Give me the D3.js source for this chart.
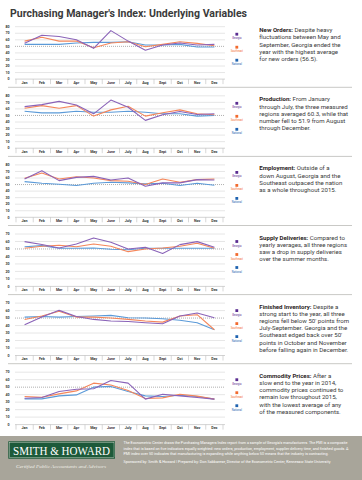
<!DOCTYPE html>
<html><head><meta charset="utf-8">
<script src="https://cdn.jsdelivr.net/npm/d3@7"></script>
<style>
html,body{margin:0;padding:0;background:#fff;}
svg{display:block;font-family:Roboto,"Noto Sans",sans-serif;}
</style></head>
<body><svg id="c" width="362" height="480"></svg>
<script>
const months = ["Jan","Feb","Mar","Apr","May","June","July","Aug","Sept","Oct","Nov","Dec"];
const seriesNames = ["Georgia","Southeast","National"];
const panelTitles = ["New Orders","Production","Employment","Supply Deliveries","Finished Inventory","Commodity Prices"];
const yMaxes = [80,80,80,70,70,70];

const newOrdersGeorgia   = [54.6,67,65,60,47,74,58,44,52,55,52,53];
const newOrdersSoutheast = [58,64,58,58,48,55,57,49.5,53,57,54.5,51];
const newOrdersNational  = [53,53,53,55,56,56,57,52,52,53,49,49];

const productionGeorgia   = [63.5,66.5,71.5,66,52.5,73.5,62.5,42.5,51,56,51.5,52.5];
const productionSoutheast = [61,65,61,65,49,58.5,64,49,54,58.5,52.5,51];
const productionNational  = [56.5,54,54,56.5,55,55,56.5,55,52.5,52.5,49,50];

const employmentGeorgia   = [58.5,71,56,61,62.5,57,60,47.5,52.5,52.5,57.5,57];
const employmentSoutheast = [59.5,67.5,58.5,62,60,56,55,50,58.5,53.5,57.5,58.5];
const employmentNational  = [54.5,52,50.5,48.5,52,53.5,52.5,51,52,48.5,52,49];

const supplyGeorgia   = [59.8,56,51.3,56.7,64.7,59,50,52.2,44,55.8,59.8,52.2];
const supplySoutheast = [51,53.6,55,53,56.7,53.6,46.4,50,51.3,53.6,57.6,51];
const supplyNational  = [53,54.5,51,51,51.3,49.6,49,51,51,51,51,51];

const inventoryGeorgia   = [41,51.3,60.3,52.2,48.2,46,45.5,43.8,42.4,52.7,56.7,50.4];
const inventorySoutheast = [48.2,52.7,59,51.3,51.3,50,48.2,46,44.6,52.7,54.5,34.4];
const inventoryNational  = [51.3,52.2,51.3,52.2,52.7,53.6,50.4,50,49,47,43.8,34.4];

const commodityGeorgia   = [35.3,36.2,44.2,47.3,47.8,59,55.4,34,40.6,38.4,36.2,34];
const commoditySoutheast = [37.5,36.6,41,45,55.4,53,45.5,34.8,35.7,40.6,38,34];
const commodityNational  = [34.4,34.4,38.4,39.7,50,51,44.2,38.4,37.5,39.3,37.5,34];

const panelTexts = [
  ["Despite heavy","fluctuations between May and","September, Georgia ended the","year with the highest average","for new orders (56.5)."],
  ["From January","through July, the three measured","regions averaged 60.3, while that","number fell to 51.9 from August","through December."],
  ["Outside of a","down August, Georgia and the","Southeast outpaced the nation","as a whole throughout 2015."],
  ["Compared to","yearly averages, all three regions","saw a drop in supply deliveries","over the summer months."],
  ["Despite a","strong start to the year, all three","regions fell below 50' points from","July-September. Georgia and the","Southeast edged back over 50'","points in October and November","before falling again in December."],
  ["After a","slow end to the year in 2014,","commodity prices continued to","remain low throughout 2015,","with the lowest average of any","of the measured components."]
];

const footerLines = [
  "The Econometric Center draws the Purchasing Managers Index report from a sample of Georgia's manufacturers. The PMI is a composite",
  "index that is based on five indicators equally weighted: new orders, production, employment, supplier delivery time, and finished goods. A",
  "PMI index over 50 indicates that manufacturing is expanding while anything below 50 means that the industry is contracting.",
  "Sponsored by: Smith & Howard  |  Prepared by: Don Sabbarese, Director of the Econometric Center, Kennesaw State University"
];

const panelData = [
  [newOrdersGeorgia,newOrdersSoutheast,newOrdersNational],
  [productionGeorgia,productionSoutheast,productionNational],
  [employmentGeorgia,employmentSoutheast,employmentNational],
  [supplyGeorgia,supplySoutheast,supplyNational],
  [inventoryGeorgia,inventorySoutheast,inventoryNational],
  [commodityGeorgia,commoditySoutheast,commodityNational]
];

const lineColors = ["#8a63b8","#f5865a","#5b9ad8"];
const legendColors = ["#5a2d91","#f26a2e","#1f63b0"];

const svg = d3.select("#c");

svg.append("text").attr("x",10).attr("y",17.2)
  .attr("font-size",11).attr("font-weight",700).attr("fill","#3a3a3a")
  .attr("textLength",237).attr("lengthAdjust","spacingAndGlyphs")
  .text("Purchasing Manager's Index: Underlying Variables");

const x = d3.scalePoint().domain(months).range([24.6,214.4]);
const xBand = d3.scaleBand().domain(months).range([16,223]);

panelData.forEach((series,i)=>{
  const top = 26.7 + i*69.1, h = 52.4;
  const g = svg.append("g");
  if(i>0){
    g.append("line").attr("x1",8).attr("x2",352).attr("y1",top-8.5).attr("y2",top-8.5)
      .attr("stroke","#c9c9c6").attr("stroke-width",1);
  }
  const y = d3.scaleLinear().domain([0,yMaxes[i]]).range([top+h,top]);
  const ticks = d3.range(0,yMaxes[i]+1,10);
  g.selectAll(".grid").data(ticks.filter(t=>t!==50)).enter().append("line")
    .attr("x1",15).attr("x2",225).attr("y1",d=>y(d)).attr("y2",d=>y(d))
    .attr("stroke",d=>d===0?"#c8c8c8":"#e0e0e0").attr("stroke-width",0.8);
  g.append("line").attr("x1",15).attr("x2",225).attr("y1",y(50)).attr("y2",y(50))
    .attr("stroke","#9a9a9a").attr("stroke-width",0.8).attr("stroke-dasharray","1,1");
  g.selectAll(".yl").data(ticks).enter().append("text")
    .attr("x",9.5).attr("y",d=>y(d)+1.2).attr("text-anchor","end")
    .attr("font-size",3.6).attr("font-weight",700).attr("fill","#333").text(d=>d);
  const bounds = months.map(m=>xBand(m)).concat([xBand.range()[1]]);
  g.selectAll(".xt").data(bounds).enter().append("line")
    .attr("x1",d=>d).attr("x2",d=>d).attr("y1",top+h).attr("y2",top+h+5)
    .attr("stroke","#bdbdbd").attr("stroke-width",0.6);
  g.selectAll(".xl").data(months).enter().append("text")
    .attr("x",d=>x(d)).attr("y",top+h+4.6).attr("text-anchor","middle")
    .attr("font-size",3.6).attr("font-weight",700).attr("fill","#333").text(d=>d);
  const line = d3.line().x((d,j)=>x(months[j])).y(d=>y(d));
  [2,1,0].forEach(k=>{
    g.append("path").attr("d",line(series[k])).attr("fill","none")
      .attr("stroke",lineColors[k]).attr("stroke-width",1.1).attr("stroke-linejoin","round");
  });
  seriesNames.forEach((n,k)=>{
    const sy = top + 7.5 + k*13;
    g.append("rect").attr("x",235.4).attr("y",sy-1.4).attr("width",2.8).attr("height",2.8)
      .attr("fill",legendColors[k]);
    g.append("text").attr("x",236.8).attr("y",sy+5).attr("text-anchor","middle")
      .attr("font-size",2.7).attr("fill",legendColors[k]).text(n);
  });
  const tb = g.append("text").attr("font-size",6.1).attr("fill","#3a3a3a");
  panelTexts[i].forEach((ln,j)=>{
    const t = tb.append("tspan").attr("x",259.3).attr("y",top+5.5+j*7.2);
    if(j===0){
      t.append("tspan").attr("font-weight",700).attr("fill","#2b2424").text(panelTitles[i]+": ");
      t.append("tspan").text(ln);
    } else t.text(ln);
  });
});

// footer
svg.append("rect").attr("x",0).attr("y",436).attr("width",362).attr("height",44).attr("fill","#a8a59a");
svg.append("rect").attr("x",8.3).attr("y",441.3).attr("width",106.7).attr("height",17.4).attr("fill","#1d5a3a");
svg.append("rect").attr("x",9.3).attr("y",442.3).attr("width",104.7).attr("height",15.4).attr("fill","none")
  .attr("stroke","#e8e8e0").attr("stroke-width",0.4);
svg.append("text").attr("x",61.6).attr("y",455).attr("text-anchor","middle")
  .attr("font-family","'Liberation Serif','DejaVu Serif',serif").attr("font-size",12)
  .attr("fill","#fff").attr("textLength",97).attr("lengthAdjust","spacingAndGlyphs")
  .text("SMITH & HOWARD");
svg.append("text").attr("x",16).attr("y",468).attr("font-family","'Liberation Serif',serif")
  .attr("font-style","italic").attr("font-size",4.6).attr("fill","#f0efe8")
  .attr("textLength",90).attr("lengthAdjust","spacingAndGlyphs")
  .text("Certified Public Accountants and Advisors");
const fy = [443.8,449.6,455.4,463.4];
const fw = [224,225,205,207];
footerLines.forEach((ln,j)=>{
  svg.append("text").attr("x",123.5).attr("y",fy[j]).attr("font-size",3.5).attr("fill","#fff")
    .attr("textLength",fw[j]).attr("lengthAdjust","spacingAndGlyphs").text(ln);
});
</script></body></html>
